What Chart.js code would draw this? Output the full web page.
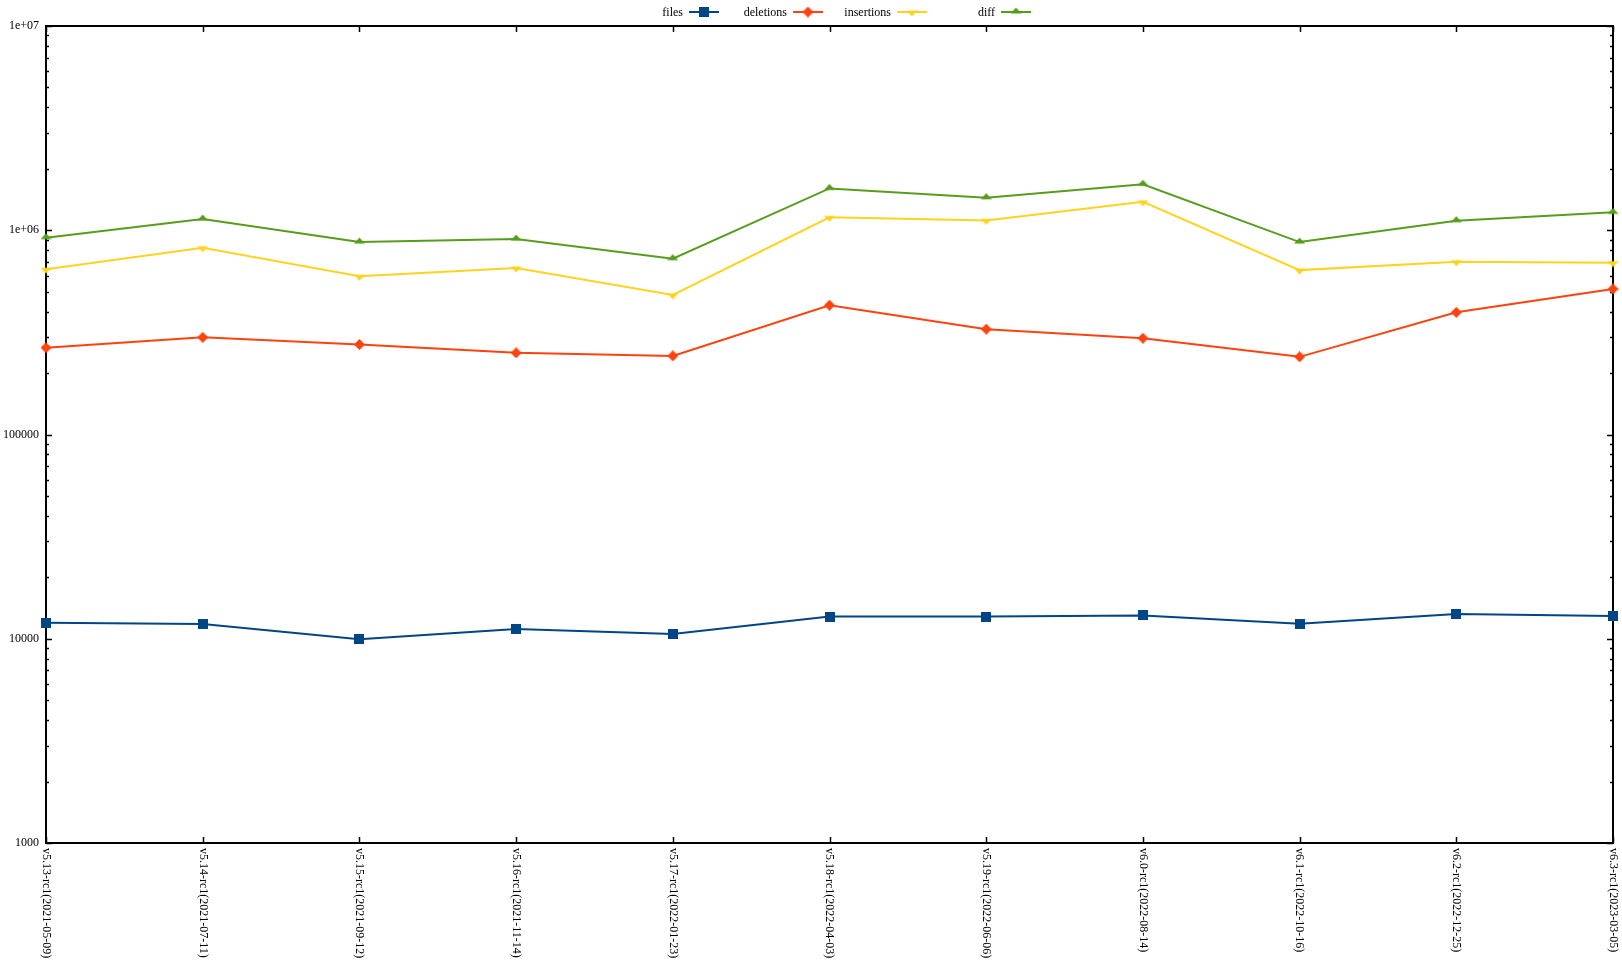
<!DOCTYPE html>
<html>
<head>
<meta charset="utf-8">
<style>
  html, body { margin: 0; padding: 0; background: #fff; }
  #wrap { width: 1622px; height: 969px; }
</style>
</head>
<body>
<div id="wrap"><canvas id="chart"></canvas></div>
<script src="https://cdn.jsdelivr.net/npm/chart.js"></script>
<script>
// kernel release stats, log scale

const releases = [
  "v5.13-rc1(2021-05-09)", "v5.14-rc1(2021-07-11)", "v5.15-rc1(2021-09-12)",
  "v5.16-rc1(2021-11-14)", "v5.17-rc1(2022-01-23)", "v5.18-rc1(2022-04-03)",
  "v5.19-rc1(2022-06-06)", "v6.0-rc1(2022-08-14)", "v6.1-rc1(2022-10-16)",
  "v6.2-rc1(2022-12-25)", "v6.3-rc1(2023-03-05)"
];
const files      = [11985, 11810, 9940, 11170, 10540, 12850, 12850, 13000, 11830, 13215, 12920];
const deletions  = [266000, 299000, 276000, 251000, 242600, 429600, 328000, 296000, 240000, 396400, 515700];
const insertions = [644000, 821000, 595000, 653400, 482600, 1157000, 1117000, 1377000, 638000, 701500, 693500];
const diff       = [920000, 1135000, 875000, 906000, 726000, 1603000, 1444000, 1680000, 875000, 1114000, 1224000];

const yTicks      = [1000, 10000, 100000, 1000000, 10000000];
const yTickLabels = ["1000", "10000", "100000", "1e+06", "1e+07"];

const FONT = '12px "Liberation Serif", "DejaVu Serif", serif';

// little marker images, gnuplot-ish
function marker(kind, color) {
  const c = document.createElement("canvas");
  const g = c.getContext("2d");
  if (kind === "square") {
    c.width = 10; c.height = 10;
    g.fillStyle = color;
    g.fillRect(0, 0, 10, 10);
  } else if (kind === "diamond") {
    c.width = 11; c.height = 11;
    g.fillStyle = color;
    g.beginPath();
    g.moveTo(5.5, 0); g.lineTo(11, 5.5); g.lineTo(5.5, 11); g.lineTo(0, 5.5);
    g.closePath(); g.fill();
  } else if (kind === "up") {
    // base sits on the point, apex above
    c.width = 11; c.height = 12;
    g.fillStyle = color;
    g.beginPath();
    g.moveTo(5.5, 1.5); g.lineTo(11, 7.5); g.lineTo(0, 7.5);
    g.closePath(); g.fill();
  } else {
    c.width = 11; c.height = 12;
    g.fillStyle = color;
    g.beginPath();
    g.moveTo(0, 4.5); g.lineTo(11, 4.5); g.lineTo(5.5, 10.5);
    g.closePath(); g.fill();
  }
  return c;
}

const colors = ["#004586", "#ff420e", "#ffd320", "#579d1c"];
const markers = [
  marker("square", colors[0]),
  marker("diamond", colors[1]),
  marker("down", colors[2]),
  marker("up", colors[3])
];

function series(label, data, i) {
  return {
    label: label,
    data: data,
    borderColor: colors[i],
    backgroundColor: colors[i],
    borderWidth: 2,
    pointStyle: markers[i],
    pointRadius: 6,
    tension: 0,
    clip: false
  };
}

// frame + inward ticks (under the lines)
const framePlugin = {
  id: "frame",
  beforeDatasetsDraw(chart) {
    const { ctx, chartArea: a, scales } = chart;
    ctx.save();
    ctx.strokeStyle = "#000";
    ctx.lineWidth = 1.5;
    ctx.beginPath();
    releases.forEach((r, i) => {
      const x = Math.round(scales.x.getPixelForValue(i)) + 0.5;
      ctx.moveTo(x, a.bottom); ctx.lineTo(x, a.bottom - 6);
      ctx.moveTo(x, a.top); ctx.lineTo(x, a.top + 6);
    });
    yTicks.forEach((v, k) => {
      const y = Math.round(scales.y.getPixelForValue(v)) + 0.5;
      ctx.moveTo(a.left, y); ctx.lineTo(a.left + 6, y);
      ctx.moveTo(a.right, y); ctx.lineTo(a.right - 6, y);
      if (k < yTicks.length - 1) {
        for (let m = 2; m <= 9; m++) {
          const ym = Math.round(scales.y.getPixelForValue(v * m)) + 0.5;
          ctx.moveTo(a.left, ym); ctx.lineTo(a.left + 3, ym);
          ctx.moveTo(a.right, ym); ctx.lineTo(a.right - 3, ym);
        }
      }
    });
    ctx.stroke();
    ctx.lineWidth = 2;
    ctx.strokeRect(a.left, a.top, a.right - a.left, a.bottom - a.top);
    ctx.restore();
  },
  afterDraw(chart) {
    const { ctx, chartArea: a, scales } = chart;
    ctx.save();
    ctx.fillStyle = "#000";
    ctx.font = FONT;

    // y labels
    ctx.textAlign = "right";
    ctx.textBaseline = "middle";
    yTicks.forEach((v, k) => {
      ctx.fillText(yTickLabels[k], a.left - 7, scales.y.getPixelForValue(v));
    });

    // x labels, rotated clockwise
    releases.forEach((r, i) => {
      ctx.save();
      ctx.translate(scales.x.getPixelForValue(i), a.bottom + 5);
      ctx.rotate(Math.PI / 2);
      ctx.textAlign = "left";
      ctx.textBaseline = "middle";
      ctx.fillText(r, 0, 0);
      ctx.restore();
    });

    // key: text then sample
    chart.data.datasets.forEach((ds, i) => {
      const sx = 689 + 104 * i, y = 12;
      ctx.textAlign = "right";
      ctx.textBaseline = "middle";
      ctx.fillStyle = "#000";
      ctx.fillText(ds.label, sx - 6, y + 0.5);
      ctx.strokeStyle = ds.borderColor;
      ctx.lineWidth = 2;
      ctx.beginPath();
      ctx.moveTo(sx, y); ctx.lineTo(sx + 30, y);
      ctx.stroke();
      const m = ds.pointStyle;
      ctx.drawImage(m, sx + 15 - m.width / 2, y - m.height / 2);
    });
    ctx.restore();
  }
};

new Chart(document.getElementById("chart"), {
  type: "line",
  data: {
    labels: releases,
    datasets: [
      series("files", files, 0),
      series("deletions", deletions, 1),
      series("insertions", insertions, 2),
      series("diff", diff, 3)
    ]
  },
  options: {
    responsive: true,
    maintainAspectRatio: false,
    animation: false,
    events: [],
    layout: { padding: { top: 26, right: 9, left: 0, bottom: 0 } },
    plugins: {
      legend: { display: false },
      tooltip: { enabled: false }
    },
    scales: {
      x: {
        type: "category",
        offset: false,
        grid: { display: false },
        border: { display: false },
        ticks: { display: false },
        afterFit: (s) => { s.height = 126; }
      },
      y: {
        type: "logarithmic",
        min: 1000,
        max: 10000000,
        grid: { display: false },
        border: { display: false },
        ticks: { display: false },
        afterFit: (s) => { s.width = 46; }
      }
    }
  },
  plugins: [framePlugin]
});
</script>
</body>
</html>
